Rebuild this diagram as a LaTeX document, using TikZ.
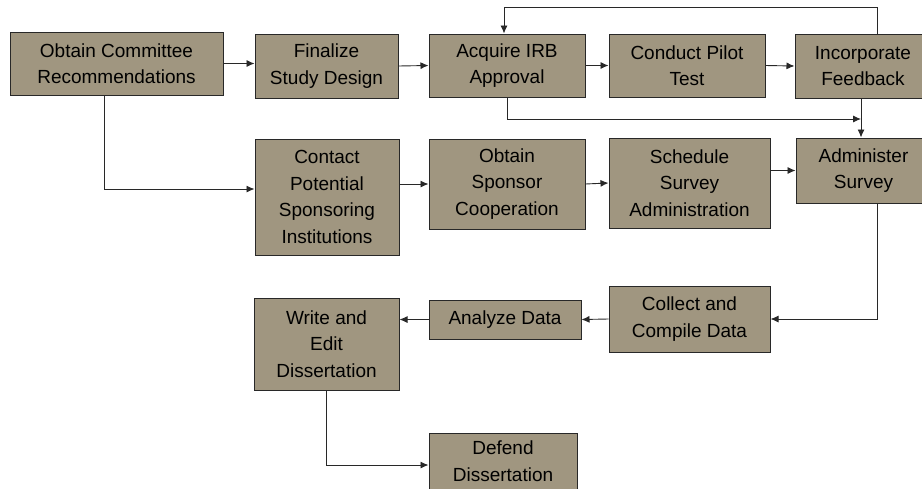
\documentclass[tikz,border=0pt]{standalone}
\usepackage{fontspec}
\setmainfont{Liberation Sans}
\usepackage{tikz}
\usetikzlibrary{calc, shapes, arrows.meta}
\definecolor{khaki}{RGB}{160,150,128}
\definecolor{edge}{RGB}{40,40,40}

\begin{document}
\begin{tikzpicture}[x=1pt,y=-1pt]
\tikzstyle{box}=[rectangle,draw=edge,line width=1pt,fill=khaki,align=center,inner sep=2pt,font=\fontsize{19}{26.5}\selectfont]
\tikzstyle{conn}=[draw=edge,line width=0.9pt,-{Latex[length=8pt,width=7pt]}]
\useasboundingbox (0,0) rectangle (922,488);
\node[box,minimum width=213pt,minimum height=63pt] (commit) at (116.5,63.5) {Obtain Committee\\Recommendations};
\node[box,minimum width=143pt,minimum height=64pt] (design) at (326.5,66) {Finalize\\Study Design};
\node[box,minimum width=156pt,minimum height=63pt] (irb) at (507,65.5) {Acquire IRB\\Approval};
\node[box,minimum width=156pt,minimum height=63pt] (pilot) at (687,65.5) {Conduct Pilot\\Test};
\node[box,minimum width=136pt,minimum height=64pt] (feedback) at (863,66) {Incorporate\\Feedback};
\node[box,minimum width=144pt,minimum height=116pt] (contact) at (327,197) {Contact\\Potential\\Sponsoring\\Institutions};
\node[box,minimum width=156pt,minimum height=90pt] (sponsor) at (507,184) {Obtain\\Sponsor\\Cooperation};
\node[box,minimum width=161pt,minimum height=90pt] (schedule) at (689.5,183) {Schedule\\Survey\\Administration};
\node[box,minimum width=135pt,minimum height=65pt] (admin) at (863.5,170.5) {Administer\\Survey};
\node[box,minimum width=161pt,minimum height=66pt] (collect) at (689.5,319) {Collect and\\Compile Data};
\node[box,minimum width=152pt,minimum height=39pt] (analyze) at (505,319.5) {Analyze Data};
\node[box,minimum width=145pt,minimum height=92pt] (write) at (326.5,344) {Write and\\Edit\\Dissertation};
\node[box,minimum width=148pt,minimum height=56pt] (defend) at (503,461) {Defend\\Dissertation};
\coordinate (loop) at (877,7);
\coordinate (merge) at (861,119);
% top row
\draw[conn] (commit.east) -- (commit.east -| design.west);
\draw[conn] (design.east) -- (irb.west);
\draw[conn] (irb.east) -- (pilot.west);
\draw[conn] (pilot.east) -- (feedback.west);
\draw[conn] (loop |- feedback.north) -- (loop) -| ([xshift=-3pt]irb.north);
\draw[conn] (irb.south) |- (merge);
\draw[conn] (merge |- feedback.south) -- (merge |- admin.north);
% middle row
\draw[conn] ([xshift=-12pt]commit.south) |- ([yshift=8pt]contact.west);
\draw[conn] (contact.east |- sponsor.west) -- (sponsor.west);
\draw[conn] (sponsor.east) -- (schedule.west);
\draw[conn] (schedule.east |- admin.west) -- (admin.west);
% bottom
\draw[conn] (loop |- admin.south) |- (collect.east);
\draw[conn] (collect.west) -- (analyze.east);
\draw[conn] (analyze.west) -- (analyze.west -| write.east);
\draw[conn] (write.south) |- ([yshift=-4pt]defend.west);
\end{tikzpicture}
\end{document}
